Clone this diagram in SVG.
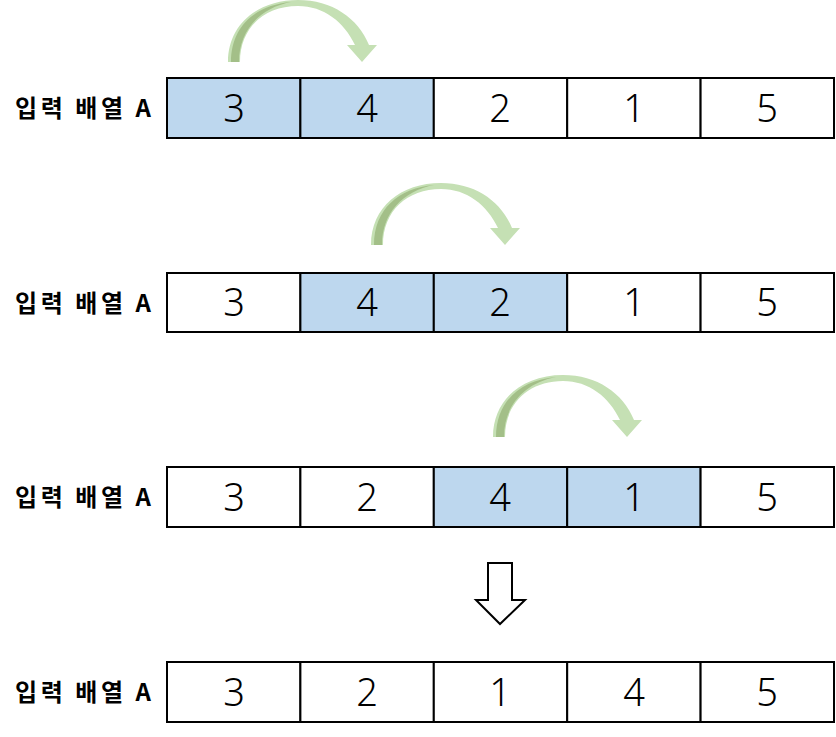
<svg xmlns="http://www.w3.org/2000/svg" width="836" height="737" viewBox="0 0 836 737">
<defs>
<style>
.cell{stroke:#000;stroke-width:2;fill:#fff}
.hl{fill:#bdd7ee}
.num{font-family:"Noto Sans","DejaVu Sans",sans-serif;font-size:38px;font-weight:300;fill:#000;text-anchor:middle}
.lbl{font-family:"Noto Sans CJK KR","Noto Sans",sans-serif;font-size:24px;font-weight:bold;fill:#000}
.arc{fill:#c5e0b4}
.arcd{fill:#a3bf88}
</style>
<g id="curve">
<path class="arc" d="M0,0 C0,-38 30,-62 70,-62 C104,-62 130,-44 141,-17 L149,-17 L134,0 L119,-17 L127,-17 C116,-40 96,-56 70,-56 C36,-56 12,-34 12,0 Z"/>
<path class="arcd" d="M3,0 C3,-36 28,-57 63,-60 C32,-54 11,-32 11,0 Z"/>
</g>
</defs>
<rect width="836" height="737" fill="#fff"/>
<g id="connectors">
<use href="#curve" transform="translate(228,62)"/>
<use href="#curve" transform="translate(371,245)"/>
<use href="#curve" transform="translate(493,437)"/>
<path d="M488,563 L512,563 L512,600 L525,600 L500,624 L476,600 L488,600 Z" fill="#fff" stroke="#000" stroke-width="2"/>
</g>
<g id="row1">
<text class="lbl" x="15" y="117" textLength="136" lengthAdjust="spacing">입력 배열 A</text>
<rect class="cell hl" x="167" y="78" width="133.4" height="60"/>
<rect class="cell hl" x="300.4" y="78" width="133.4" height="60"/>
<rect class="cell" x="433.8" y="78" width="133.4" height="60"/>
<rect class="cell" x="567.2" y="78" width="133.4" height="60"/>
<rect class="cell" x="700.6" y="78" width="133.4" height="60"/>
<text class="num" x="234" y="122">3</text>
<text class="num" x="367" y="122">4</text>
<text class="num" x="500" y="122">2</text>
<text class="num" x="634" y="122">1</text>
<text class="num" x="767" y="122">5</text>
</g>
<g id="row2">
<text class="lbl" x="15" y="311.5" textLength="136" lengthAdjust="spacing">입력 배열 A</text>
<rect class="cell" x="167" y="273" width="133.4" height="59"/>
<rect class="cell hl" x="300.4" y="273" width="133.4" height="59"/>
<rect class="cell hl" x="433.8" y="273" width="133.4" height="59"/>
<rect class="cell" x="567.2" y="273" width="133.4" height="59"/>
<rect class="cell" x="700.6" y="273" width="133.4" height="59"/>
<text class="num" x="234" y="316">3</text>
<text class="num" x="367" y="316">4</text>
<text class="num" x="500" y="316">2</text>
<text class="num" x="634" y="316">1</text>
<text class="num" x="767" y="316">5</text>
</g>
<g id="row3">
<text class="lbl" x="15" y="506" textLength="136" lengthAdjust="spacing">입력 배열 A</text>
<rect class="cell" x="167" y="467" width="133.4" height="60"/>
<rect class="cell" x="300.4" y="467" width="133.4" height="60"/>
<rect class="cell hl" x="433.8" y="467" width="133.4" height="60"/>
<rect class="cell hl" x="567.2" y="467" width="133.4" height="60"/>
<rect class="cell" x="700.6" y="467" width="133.4" height="60"/>
<text class="num" x="234" y="511">3</text>
<text class="num" x="367" y="511">2</text>
<text class="num" x="500" y="511">4</text>
<text class="num" x="634" y="511">1</text>
<text class="num" x="767" y="511">5</text>
</g>
<g id="row4">
<text class="lbl" x="15" y="701" textLength="136" lengthAdjust="spacing">입력 배열 A</text>
<rect class="cell" x="167" y="662" width="133.4" height="60"/>
<rect class="cell" x="300.4" y="662" width="133.4" height="60"/>
<rect class="cell" x="433.8" y="662" width="133.4" height="60"/>
<rect class="cell" x="567.2" y="662" width="133.4" height="60"/>
<rect class="cell" x="700.6" y="662" width="133.4" height="60"/>
<text class="num" x="234" y="706">3</text>
<text class="num" x="367" y="706">2</text>
<text class="num" x="500" y="706">1</text>
<text class="num" x="634" y="706">4</text>
<text class="num" x="767" y="706">5</text>
</g>
</svg>
